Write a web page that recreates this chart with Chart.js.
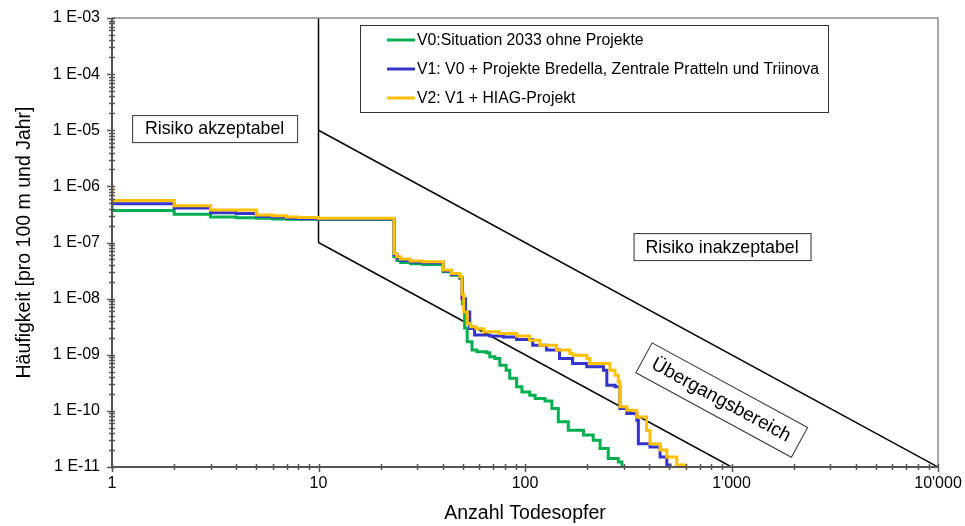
<!DOCTYPE html>
<html>
<head>
<meta charset="utf-8">
<script src="https://cdn.jsdelivr.net/npm/chart.js@4.4.1/dist/chart.umd.min.js"></script>
<style>
  html, body { margin: 0; padding: 0; background: #fff; }
  #wrap { width: 965px; height: 526px; }
</style>
</head>
<body>
<div id="wrap"><canvas id="chart" width="965" height="526"></canvas></div>
<script>
// series names (legend)
const seriesNames = [
  'V0:Situation 2033 ohne Projekte',
  'V1: V0 + Projekte Bredella, Zentrale Pratteln und Triinova',
  'V2: V1 + HIAG-Projekt'
];
const seriesColors = ['#00b050', '#3535cc', '#ffc000'];

// V0 - Anzahl Todesopfer / Häufigkeit
const v0Deaths = [1, 1, 2, 3, 4, 5, 6, 7, 10, 23.2, 24, 25, 28, 32, 40.2, 44, 48.3, 49.8, 51, 52.5, 55.4, 58.5, 65, 67.5, 71.5, 75.5, 81, 84.3, 91, 96.6, 105.5, 112, 125, 135, 145, 162, 192, 214, 231, 253, 283, 295];
const v0Freq = [4.6e-7, 3.7e-7, 3.2e-7, 2.84e-7, 2.75e-7, 2.7e-7, 2.63e-7, 2.6e-7, 2.57e-7, 5.6e-8, 4.8e-8, 4.4e-8, 4.2e-8, 4.07e-8, 3.0e-8, 2.6e-8, 2.3e-8, 8e-9, 3e-9, 1.7e-9, 1.21e-9, 1.13e-9, 1.09e-9, 9.2e-10, 8.6e-10, 6.5e-10, 5.3e-10, 3.8e-10, 2.68e-10, 2.18e-10, 1.9e-10, 1.66e-10, 1.5e-10, 1.1e-10, 6.4e-11, 4.5e-11, 3.7e-11, 3.0e-11, 2.14e-11, 1.42e-11, 1.23e-11, 1e-11];

// V1
const v1Deaths = [1, 1, 2, 3, 4, 5, 6, 7, 8, 10, 23.2, 24, 25, 28, 32, 40.2, 44, 48.3, 49.5, 51.5, 54, 57, 67.5, 78.5, 91, 109, 127, 147, 170, 199, 240, 249, 273, 288, 311, 348, 354, 403, 451, 486, 504];
const v1Freq = [5.5e-7, 4.9e-7, 4.1e-7, 3.4e-7, 3.3e-7, 2.95e-7, 2.85e-7, 2.7e-7, 2.65e-7, 2.62e-7, 6.0e-8, 5.2e-8, 4.8e-8, 4.5e-8, 4.35e-8, 3.1e-8, 2.7e-8, 2.35e-8, 1.0e-8, 5.8e-9, 2.94e-9, 2.24e-9, 2.15e-9, 2.08e-9, 1.87e-9, 1.48e-9, 1.21e-9, 8.6e-10, 7.0e-10, 6.1e-10, 5.3e-10, 2.87e-10, 2.68e-10, 1.1e-10, 9.0e-11, 6.8e-11, 2.6e-11, 2.28e-11, 1.51e-11, 1.08e-11, 1e-11];

// V2
const v2Deaths = [1, 1, 2, 3, 5, 6, 7, 8, 10, 23.2, 23.9, 24.9, 27.8, 32, 40.2, 44, 48.3, 49.5, 50.5, 52.5, 54.6, 58, 63, 75, 91, 105, 118, 142, 165, 171, 199, 206, 258, 273, 283, 288, 311, 348, 388, 403, 451, 486, 543, 596];
const v2Freq = [1.05e-6, 5.6e-7, 4.5e-7, 3.8e-7, 3.1e-7, 3.0e-7, 2.85e-7, 2.8e-7, 2.7e-7, 6.4e-8, 5.6e-8, 5.06e-8, 4.66e-8, 4.53e-8, 3.22e-8, 2.81e-8, 2.45e-8, 1.2e-8, 5.8e-9, 3.6e-9, 3.14e-9, 2.9e-9, 2.57e-9, 2.4e-9, 2.15e-9, 1.82e-9, 1.48e-9, 1.21e-9, 1.05e-9, 9.8e-10, 8.6e-10, 7.0e-10, 5.3e-10, 4.3e-10, 3.3e-10, 1.18e-10, 1.03e-10, 7.8e-11, 4.5e-11, 2.6e-11, 2.0e-11, 1.51e-11, 1.08e-11, 1e-11];

// Grenzlinien (Risikodiagramm)
const limitVertX = [10, 10];
const limitVertY = [1e-3, 1e-7];
const limitUpperX = [10, 10000];
const limitUpperY = [1e-5, 1e-11];
const limitLowerX = [10, 1000];
const limitLowerY = [1e-7, 1e-11];

// axes
const xDecades = [1, 10, 100, 1000, 10000];
const xTickLabels = ['1', '10', '100', "1'000", "10'000"];
const yDecades = [1e-11, 1e-10, 1e-9, 1e-8, 1e-7, 1e-6, 1e-5, 1e-4, 1e-3];
const yTickLabels = ['1 E-11', '1 E-10', '1 E-09', '1 E-08', '1 E-07', '1 E-06', '1 E-05', '1 E-04', '1 E-03'];

const areaLabels = ['Risiko akzeptabel', 'Risiko inakzeptabel', 'Übergangsbereich'];

const FONT = '"Liberation Sans", Arial, sans-serif';

function pts(xs, ys) {
  return xs.map((x, i) => ({ x: x, y: ys[i] }));
}

function logTicks(decades) {
  const out = [];
  decades.forEach((d, i) => {
    out.push({ value: d, major: true });
    if (i < decades.length - 1) {
      for (let m = 2; m <= 9; m++) out.push({ value: m * d, major: false });
    }
  });
  return out;
}

function labelFor(value, decades, labels) {
  for (let i = 0; i < decades.length; i++) {
    if (Math.abs(value / decades[i] - 1) < 1e-6) return labels[i];
  }
  return '';
}

const frame = {
  id: 'frame',
  afterDatasetsDraw(chart) {
    const ctx = chart.ctx;
    const xs = chart.scales.x, ys = chart.scales.y;
    const a = chart.chartArea;

    // slope of the limit lines in pixels
    const dx = xs.getPixelForValue(limitUpperX[1]) - xs.getPixelForValue(limitUpperX[0]);
    const dy = ys.getPixelForValue(limitUpperY[1]) - ys.getPixelForValue(limitUpperY[0]);
    const ang = Math.atan2(dy, dx);

    const boxes = [
      { x: 3.14, y: 1.07e-5, w: 165, h: 27, rot: 0, size: 17.8 },
      { x: 900, y: 8.45e-8, w: 177, h: 27, rot: 0, size: 17.8 },
      { x: 895, y: 1.6e-10, w: 177, h: 34, rot: ang, size: 19 }
    ];
    boxes.forEach((b, i) => {
      ctx.save();
      ctx.translate(xs.getPixelForValue(b.x), ys.getPixelForValue(b.y));
      ctx.rotate(b.rot);
      ctx.fillStyle = '#fff';
      ctx.fillRect(-b.w / 2, -b.h / 2, b.w, b.h);
      ctx.strokeStyle = '#333';
      ctx.lineWidth = 1;
      ctx.strokeRect(-b.w / 2 + 0.5, -b.h / 2 + 0.5, b.w, b.h);
      ctx.fillStyle = '#000';
      ctx.font = b.size + 'px ' + FONT;
      ctx.textAlign = 'center';
      ctx.textBaseline = 'middle';
      ctx.fillText(areaLabels[i], 0, 1);
      ctx.restore();
    });

    // legend
    const lx = a.left + 248, ly = a.top + 7;
    ctx.save();
    ctx.fillStyle = '#fff';
    ctx.fillRect(lx, ly, 468, 87);
    ctx.strokeStyle = '#333';
    ctx.lineWidth = 1;
    ctx.strokeRect(lx + 0.5, ly + 0.5, 468, 87);
    ctx.font = '15.8px ' + FONT;
    ctx.textBaseline = 'middle';
    ctx.textAlign = 'left';
    seriesNames.forEach((name, i) => {
      const y = ly + 15 + i * 29;
      ctx.strokeStyle = seriesColors[i];
      ctx.lineWidth = 3;
      ctx.beginPath();
      ctx.moveTo(lx + 27, y);
      ctx.lineTo(lx + 55, y);
      ctx.stroke();
      ctx.fillStyle = '#000';
      ctx.fillText(name, lx + 57, y + 1);
    });
    ctx.restore();
  },
  afterDraw(chart) {
    const ctx = chart.ctx;
    const a = chart.chartArea;
    const xs = chart.scales.x, ys = chart.scales.y;
    ctx.save();
    // plot frame (top / right)
    ctx.strokeStyle = '#8c8c8c';
    ctx.lineWidth = 1.5;
    ctx.beginPath();
    ctx.moveTo(a.left, a.top);
    ctx.lineTo(a.right, a.top);
    ctx.lineTo(a.right, a.bottom);
    ctx.stroke();
    // axes
    ctx.strokeStyle = '#555';
    ctx.lineWidth = 2;
    ctx.beginPath();
    ctx.moveTo(a.left, a.top);
    ctx.lineTo(a.left, a.bottom);
    ctx.lineTo(a.right, a.bottom);
    ctx.stroke();
    // tick marks crossing the axes
    ctx.lineWidth = 1.5;
    ys.ticks.forEach(t => {
      const p = Math.round(ys.getPixelForValue(t.value)) + 0.5;
      ctx.beginPath();
      ctx.moveTo(a.left - (t.major ? 5 : 3), p);
      ctx.lineTo(a.left + 3, p);
      ctx.stroke();
    });
    xs.ticks.forEach(t => {
      const p = Math.round(xs.getPixelForValue(t.value)) + 0.5;
      ctx.beginPath();
      ctx.moveTo(p, a.bottom - 3);
      ctx.lineTo(p, a.bottom + (t.major ? 5 : 3));
      ctx.stroke();
    });
    ctx.restore();
  }
};

function curve(idx, xs, ys) {
  return {
    label: seriesNames[idx],
    data: pts(xs, ys),
    borderColor: seriesColors[idx],
    borderWidth: 3,
    pointRadius: 0,
    fill: false,
    stepped: true,
    order: 2 - idx
  };
}

function limitLine(xs, ys) {
  return {
    data: pts(xs, ys),
    borderColor: '#000',
    borderWidth: 1.5,
    pointRadius: 0,
    fill: false,
    order: 5
  };
}

new Chart(document.getElementById('chart').getContext('2d'), {
  type: 'line',
  data: {
    datasets: [
      limitLine(limitVertX, limitVertY),
      limitLine(limitUpperX, limitUpperY),
      limitLine(limitLowerX, limitLowerY),
      curve(0, v0Deaths, v0Freq),
      curve(1, v1Deaths, v1Freq),
      curve(2, v2Deaths, v2Freq)
    ]
  },
  options: {
    responsive: false,
    animation: false,
    devicePixelRatio: 1,
    layout: { padding: { top: 18, right: 27, left: 0, bottom: 0 } },
    plugins: {
      legend: { display: false },
      tooltip: { enabled: false }
    },
    scales: {
      x: {
        type: 'logarithmic',
        min: 1,
        max: 10000,
        afterBuildTicks: s => { s.ticks = logTicks(xDecades); },
        afterFit: s => { s.height = 59; s.paddingLeft = 0; s.paddingRight = 0; },
        grid: { display: false, drawTicks: false },
        border: { display: false },
        ticks: {
          autoSkip: false,
          maxRotation: 0,
          padding: 7,
          color: '#000',
          font: { family: FONT, size: 16 },
          callback: v => labelFor(v, xDecades, xTickLabels)
        },
        title: {
          display: true,
          text: 'Anzahl Todesopfer',
          color: '#000',
          font: { family: FONT, size: 19.5 },
          padding: { top: 0, bottom: 1 }
        }
      },
      y: {
        type: 'logarithmic',
        min: 1e-11,
        max: 1e-3,
        afterBuildTicks: s => { s.ticks = logTicks(yDecades); },
        afterFit: s => { s.width = 112; s.paddingTop = 0; s.paddingBottom = 0; },
        grid: { display: false, drawTicks: false },
        border: { display: false },
        ticks: {
          autoSkip: false,
          padding: 12,
          color: '#000',
          font: { family: FONT, size: 16 },
          callback: v => labelFor(v, yDecades, yTickLabels)
        },
        title: {
          display: true,
          text: 'Häufigkeit [pro 100 m und Jahr]',
          color: '#000',
          font: { family: FONT, size: 19.5 },
          padding: { top: 13, bottom: 0 }
        }
      }
    }
  },
  plugins: [frame]
});
</script>
</body>
</html>
